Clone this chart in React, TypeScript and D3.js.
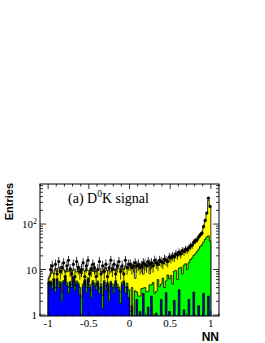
import { useEffect, useRef } from "react";
import * as d3 from "d3";

// NN output histogram, 100 bins from -1 to 1
const NN_MIN = -1;
const NN_MAX = 1;

// stacked MC components (bottom to top)
const blueComp = [
  4.5, 5.2, 3.8, 5.5, 3.2, 6.0, 4.1, 5.0, 2.0, 5.3,
  6.2, 4.4, 3.0, 5.1, 4.0, 6.8, 3.4, 5.0, 4.6, 2.8,
  1.0, 4.2, 5.6, 3.1, 6.1, 4.0, 2.4, 5.2, 4.4, 3.6,
  5.1, 2.9, 4.2, 1.4, 5.3, 3.4, 4.6, 2.0, 5.0, 4.1,
  3.0, 5.2, 4.0, 3.5, 1.8, 4.6, 5.1, 3.0, 4.2, 2.4,
  0, 1.6, 0, 0, 2.2, 0, 1.2, 0, 3.0, 0,
  0, 1.5, 0, 2.6, 0, 0, 1.1, 0, 0, 2.2,
  0, 0, 3.1, 0, 1.2, 0, 0, 2.1, 0, 0,
  3.6, 0, 0, 1.3, 0, 0, 2.2, 0, 0, 3.2,
  0, 0, 1.6, 0, 0, 3.0, 0, 0, 2.6, 0,
];

const greenComp = [
  0.6, 0.4, 1.0, 0.5, 0.8, 0.3, 0.9, 0.5, 1.2, 0.4,
  0.5, 0.8, 1.1, 0.4, 0.7, 0.3, 1.0, 0.6, 0.5, 1.2,
  1.5, 0.6, 0.4, 0.9, 0.5, 0.7, 1.1, 0.5, 0.6, 0.8,
  0.5, 1.0, 0.7, 1.3, 0.4, 0.8, 0.6, 1.2, 0.5, 0.7,
  0.9, 0.5, 0.8, 0.6, 1.4, 0.7, 0.5, 1.0, 0.8, 1.2,
  1.2, 2.4, 0.8, 3.4, 1.0, 2.6, 1.4, 3.8, 0.9, 4.0,
  3.2, 1.8, 4.6, 2.0, 5.2, 3.0, 2.2, 6.0, 4.2, 2.6,
  6.5, 4.0, 2.5, 7.6, 5.0, 7.4, 4.8, 7.1, 9.5, 6.0,
  7.0, 11.2, 8.0, 11.2, 13.4, 10.0, 12.0, 16.5, 18.0, 17.3,
  22.0, 25.0, 26.4, 32.0, 35.0, 37.0, 46.0, 52.0, 52.4, 42.0,
];

const yellowComp = [
  1.4, 2.4, 4.7, 2.0, 6.5, 2.7, 6.0, 3.0, 6.3, 4.3,
  2.1, 5.3, 4.9, 5.5, 3.8, 2.7, 5.8, 3.2, 6.4, 5.0,
  5.5, 5.2, 3.2, 6.8, 2.9, 3.9, 7.7, 3.3, 5.4, 4.4,
  4.0, 6.9, 4.1, 5.7, 4.5, 6.8, 4.2, 6.8, 3.3, 6.6,
  6.1, 3.5, 6.8, 6.3, 6.6, 5.7, 4.4, 8.0, 5.6, 7.6,
  10.3, 8.5, 10.2, 3.0, 8.8, 10.2, 9.0, 9.4, 4.0, 9.0,
  9.0, 10.3, 3.5, 9.4, 8.0, 11.2, 10.3, 9.0, 10.2, 10.8,
  8.5, 12.0, 9.9, 9.4, 11.3, 11.1, 14.2, 10.8, 11.5, 16.0,
  12.9, 12.8, 17.0, 13.5, 13.6, 18.0, 15.8, 15.5, 17.0, 17.5,
  20.0, 21.0, 23.0, 25.0, 30.0, 45.0, 69.0, 118.0, 275.0, 198.0,
];

// observed entries
const dataCounts = [
  5, 10, 12, 6, 13, 8, 15, 9, 11, 14,
  7, 12, 16, 10, 8, 13, 7, 15, 11, 9,
  10, 14, 7, 12, 16, 8, 10, 13, 11, 7,
  10, 15, 8, 12, 9, 13, 7, 11, 16, 10,
  13, 8, 12, 15, 9, 12, 8, 16, 11, 13,
  13, 11, 12, 14, 12, 13, 11, 12, 14, 13,
  12, 15, 13, 14, 12, 16, 14, 13, 16, 15,
  14, 17, 16, 15, 19, 18, 20, 19, 22, 21,
  24, 22, 26, 25, 28, 27, 30, 33, 34, 40,
  43, 45, 52, 58, 63, 88, 120, 175, 370, 245,
];

const xTickLabels = ["-1", "-0.5", "0", "0.5", "1"];
const xTickValues = [-1, -0.5, 0, 0.5, 1];
const yTickValues = [1, 10, 100];

const COMPONENTS = [
  { key: "yellow", color: "#ffff00" },
  { key: "green", color: "#00ff00" },
  { key: "blue", color: "#0000ff" },
];

export default function App() {
  const svgRef = useRef<SVGSVGElement>(null);

  useEffect(() => {
    const width = 265;
    const height = 343;
    const frame = { left: 40, right: 219, top: 184, bottom: 316 };

    const svg = d3.select(svgRef.current);
    svg.selectAll("*").remove();
    svg.attr("width", width).attr("height", height);

    const x = d3.scaleLinear().domain([-1.1, 1.1]).range([frame.left, frame.right]);
    const y = d3.scaleLog().domain([0.95, 760]).range([frame.bottom, frame.top]).clamp(true);

    const nBins = dataCounts.length;
    const binW = (NN_MAX - NN_MIN) / nBins;

    const rows = dataCounts.map((_, i) => ({
      blue: blueComp[i],
      green: greenComp[i],
      yellow: yellowComp[i],
    }));
    const stacked = d3.stack<any>().keys(["blue", "green", "yellow"])(rows);
    const topOf: Record<string, number[]> = {};
    stacked.forEach((s) => {
      topOf[s.key] = s.map((d) => d[1]);
    });

    svg.append("defs")
      .append("clipPath")
      .attr("id", "plotclip")
      .append("rect")
      .attr("x", frame.left)
      .attr("y", frame.top)
      .attr("width", frame.right - frame.left)
      .attr("height", frame.bottom - frame.top);

    const plot = svg.append("g").attr("clip-path", "url(#plotclip)");

    // step outline points for a histogram
    const stepPts = (vals: number[]) => {
      const pts: [number, number][] = [];
      vals.forEach((v, i) => {
        const x0 = NN_MIN + i * binW;
        pts.push([x0, v], [x0 + binW, v]);
      });
      return pts;
    };

    const area = d3
      .area<[number, number]>()
      .x((d) => x(d[0]))
      .y0(frame.bottom)
      .y1((d) => y(Math.max(d[1], 0.5)));

    const line = d3
      .line<[number, number]>()
      .x((d) => x(d[0]))
      .y((d) => y(Math.max(d[1], 0.5)));

    COMPONENTS.forEach((c) => {
      const pts = stepPts(topOf[c.key]);
      plot.append("path").datum(pts).attr("fill", c.color).attr("d", area);
      const outline: [number, number][] = [[NN_MIN, 0.1], ...pts, [NN_MAX, 0.1]];
      plot.append("path")
        .datum(outline)
        .attr("fill", "none")
        .attr("stroke", "#000")
        .attr("stroke-width", 0.8)
        .attr("d", line);
    });

    // data points with error bars
    const pts = plot.append("g");
    dataCounts.forEach((n, i) => {
      const cx = x(NN_MIN + (i + 0.5) * binW);
      const err = Math.sqrt(n);
      pts.append("line")
        .attr("x1", cx).attr("x2", cx)
        .attr("y1", y(Math.max(n - err, 0.5)))
        .attr("y2", y(n + err))
        .attr("stroke", "#000")
        .attr("stroke-width", 0.8);
      pts.append("line")
        .attr("x1", x(NN_MIN + i * binW)).attr("x2", x(NN_MIN + (i + 1) * binW))
        .attr("y1", y(n)).attr("y2", y(n))
        .attr("stroke", "#000")
        .attr("stroke-width", 0.8);
      pts.append("circle").attr("cx", cx).attr("cy", y(n)).attr("r", 1.6).attr("fill", "#000");
    });

    // frame
    svg.append("rect")
      .attr("x", frame.left)
      .attr("y", frame.top)
      .attr("width", frame.right - frame.left)
      .attr("height", frame.bottom - frame.top)
      .attr("fill", "none")
      .attr("stroke", "#000")
      .attr("stroke-width", 1);

    const ticks = svg.append("g").attr("stroke", "#000").attr("stroke-width", 0.8);

    // x ticks, bottom and top, pointing inward
    const xMinor = x.ticks(22);
    xMinor.forEach((v) => {
      const major = xTickValues.some((m) => Math.abs(m - v) < 1e-6);
      const len = major ? 5 : 2.5;
      ticks.append("line").attr("x1", x(v)).attr("x2", x(v))
        .attr("y1", frame.bottom).attr("y2", frame.bottom - len);
      ticks.append("line").attr("x1", x(v)).attr("x2", x(v))
        .attr("y1", frame.top).attr("y2", frame.top + len);
    });

    // y ticks, left and right
    const yAll = y.ticks();
    yAll.forEach((v) => {
      const major = yTickValues.includes(v);
      const len = major ? 6 : 3;
      ticks.append("line").attr("x1", frame.left).attr("x2", frame.left + len)
        .attr("y1", y(v)).attr("y2", y(v));
      ticks.append("line").attr("x1", frame.right).attr("x2", frame.right - len)
        .attr("y1", y(v)).attr("y2", y(v));
    });

    const serif = "'Liberation Serif', 'Times New Roman', serif";
    const sans = "'Liberation Sans', Arial, Helvetica, sans-serif";

    // x tick labels
    xTickValues.forEach((v, i) => {
      svg.append("text")
        .attr("x", x(v))
        .attr("y", frame.bottom + 11)
        .attr("text-anchor", "middle")
        .attr("font-family", serif)
        .attr("font-size", 11)
        .text(xTickLabels[i]);
    });

    // y tick labels
    yTickValues.forEach((v) => {
      const t = svg.append("text")
        .attr("x", frame.left - 3)
        .attr("y", y(v) + 4)
        .attr("text-anchor", "end")
        .attr("font-family", serif)
        .attr("font-size", 11);
      if (v === 100) {
        t.append("tspan").text("10");
        t.append("tspan").attr("dy", -4).attr("font-size", 8).text("2");
      } else {
        t.text(String(v));
      }
    });

    // axis titles
    svg.append("text")
      .attr("x", frame.right)
      .attr("y", 341)
      .attr("text-anchor", "end")
      .attr("font-family", sans)
      .attr("font-weight", "bold")
      .attr("font-size", 12)
      .text("NN");

    svg.append("text")
      .attr("transform", `translate(13,${frame.top - 1}) rotate(-90)`)
      .attr("text-anchor", "end")
      .attr("font-family", sans)
      .attr("font-weight", "bold")
      .attr("font-size", 11)
      .text("Entries");

    // plot label
    const title = svg.append("text")
      .attr("x", 68)
      .attr("y", 203)
      .attr("font-family", serif)
      .attr("font-size", 14);
    title.append("tspan").text("(a) D");
    title.append("tspan").attr("dy", -6).attr("font-size", 9.5).text("0");
    title.append("tspan").attr("dy", 6).text("K signal");
  }, []);

  return (
    <div style={{ position: "absolute", left: 0, top: 0 }}>
      <svg ref={svgRef} style={{ display: "block" }} />
    </div>
  );
}
